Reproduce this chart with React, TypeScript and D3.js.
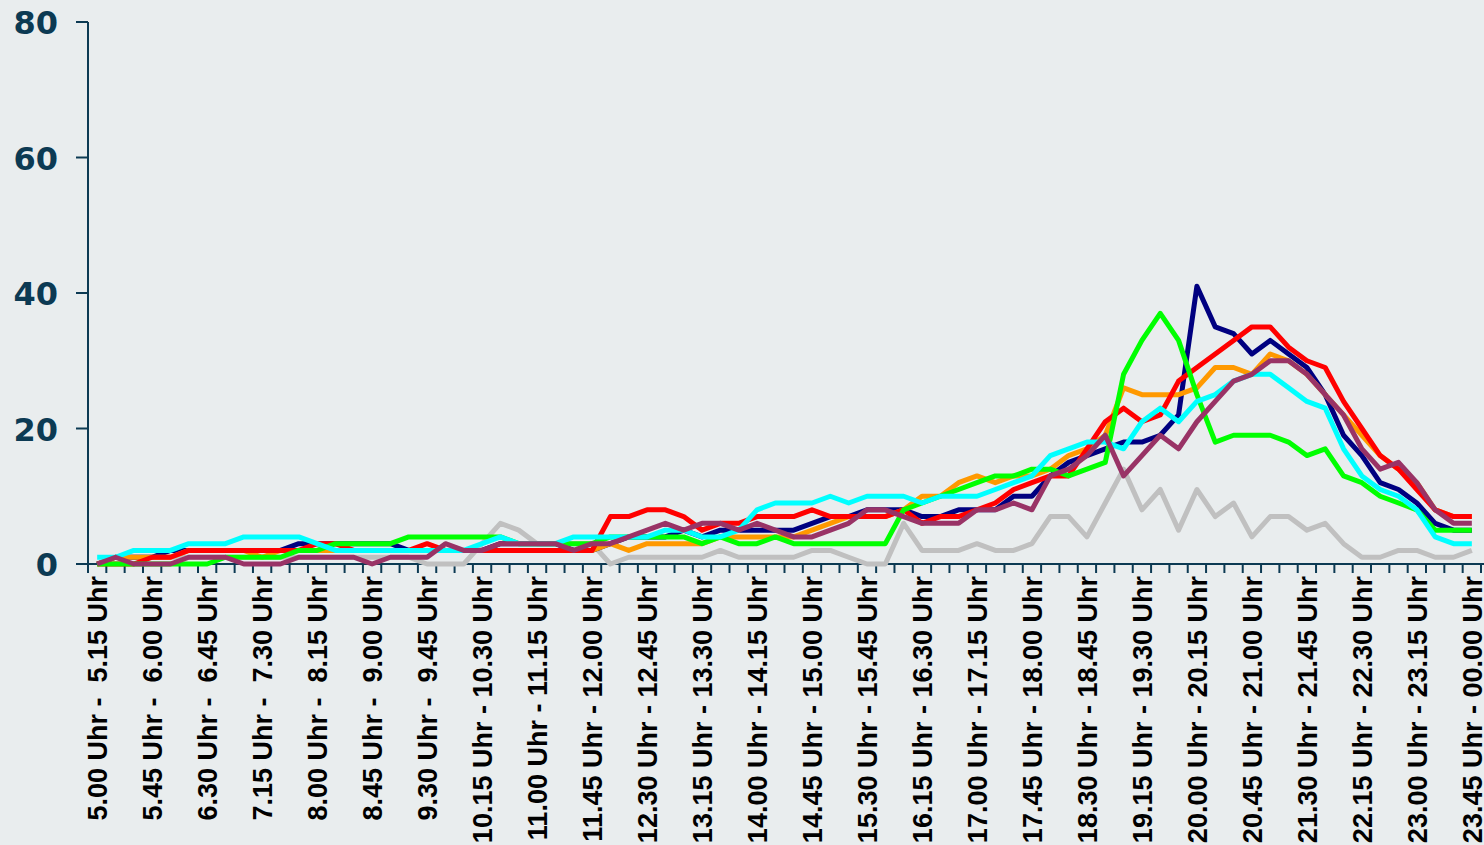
import * as d3 from "d3";

const width = 1484;
const height = 845;
const marginLeft = 88;
const plotRight = 1481;
const yTop = 22;
const yBottom = 564;

// 76 Viertelstunden von 5.00 bis 24.00 Uhr
const slotCount = 76;
const fmtTime = (mins: number, pad: boolean) => {
  const h = Math.floor(mins / 60) % 24;
  const m = mins % 60;
  const hs = h === 0 ? "00" : String(h);
  const s = `${hs}.${String(m).padStart(2, "0")}`;
  return pad && hs.length === 1 ? " " + s : s;
};
const categories = d3
  .range(slotCount)
  .map((i) => `${fmtTime(300 + i * 15, false)} Uhr - ${fmtTime(315 + i * 15, true)} Uhr`);

const yTicks = [0, 20, 40, 60, 80];

const navy = [
  0, 1, 1, 1, 2, 2, 2, 2, 2, 2, 2, 3, 3, 3, 3, 3, 3, 2, 2, 2, 2, 2, 3, 3, 3, 3,
  2, 2, 3, 4, 4, 4, 5, 4, 5, 5, 5, 5, 5, 6, 7, 7, 8, 8, 8, 7, 7, 8, 8, 8, 10,
  10, 13, 15, 16, 17, 18, 18, 19, 22, 41, 35, 34, 31, 33, 31, 29, 25, 19, 16,
  12, 11, 9, 6, 5, 5,
];
const orange = [
  0, 1, 1, 1, 1, 2, 2, 2, 2, 1, 2, 2, 2, 2, 2, 2, 2, 2, 2, 2, 2, 2, 2, 2, 2, 2,
  2, 2, 3, 2, 3, 3, 3, 3, 4, 4, 4, 4, 4, 5, 6, 7, 7, 7, 8, 10, 10, 12, 13, 12,
  13, 13, 14, 16, 17, 19, 26, 25, 25, 25, 26, 29, 29, 28, 31, 30, 28, 25, 22,
  19, 16, 14, 12, 8, 7, 7,
];
const red = [
  0, 0, 0, 1, 1, 2, 2, 2, 2, 2, 2, 2, 3, 3, 2, 2, 2, 2, 3, 2, 2, 2, 2, 2, 2, 2,
  2, 2, 7, 7, 8, 8, 7, 5, 6, 6, 7, 7, 7, 8, 7, 7, 7, 7, 8, 6, 7, 7, 8, 9, 11,
  12, 13, 13, 17, 21, 23, 21, 22, 27, 29, 31, 33, 35, 35, 32, 30, 29, 24, 20,
  16, 14, 11, 8, 7, 7,
];
const green = [
  0, 0, 0, 0, 0, 0, 0, 1, 1, 1, 1, 2, 2, 3, 3, 3, 3, 4, 4, 4, 4, 4, 4, 3, 3, 3,
  3, 3, 4, 4, 4, 4, 4, 3, 4, 3, 3, 4, 3, 3, 3, 3, 3, 3, 8, 9, 10, 11, 12, 13,
  13, 14, 14, 13, 14, 15, 28, 33, 37, 33, 25, 18, 19, 19, 19, 18, 16, 17, 13,
  12, 10, 9, 8, 5, 5, 5,
];
const cyan = [
  1, 1, 2, 2, 2, 3, 3, 3, 4, 4, 4, 4, 3, 2, 2, 2, 2, 2, 2, 2, 2, 3, 4, 3, 3, 3,
  4, 4, 4, 4, 4, 5, 5, 4, 4, 5, 8, 9, 9, 9, 10, 9, 10, 10, 10, 9, 10, 10, 10,
  11, 12, 13, 16, 17, 18, 18, 17, 21, 23, 21, 24, 25, 27, 28, 28, 26, 24, 23,
  17, 13, 11, 10, 8, 4, 3, 3,
];
const gray = [
  0, 1, 1, 1, 1, 1, 1, 1, 1, 1, 1, 1, 1, 1, 1, 1, 1, 1, 0, 0, 0, 3, 6, 5, 3, 3,
  3, 3, 0, 1, 1, 1, 1, 1, 2, 1, 1, 1, 1, 2, 2, 1, 0, 0, 6, 2, 2, 2, 3, 2, 2, 3,
  7, 7, 4, 9, 14, 8, 11, 5, 11, 7, 9, 4, 7, 7, 5, 6, 3, 1, 1, 2, 2, 1, 1, 2,
];
const purple = [
  0, 1, 0, 0, 0, 1, 1, 1, 0, 0, 0, 1, 1, 1, 1, 0, 1, 1, 1, 3, 2, 2, 3, 3, 3, 3,
  2, 3, 3, 4, 5, 6, 5, 6, 6, 5, 6, 5, 4, 4, 5, 6, 8, 8, 7, 6, 6, 6, 8, 8, 9, 8,
  13, 14, 16, 19, 13, 16, 19, 17, 21, 24, 27, 28, 30, 30, 28, 25, 22, 17, 14,
  15, 12, 8, 6, 6,
];

const series = [
  { name: "gray", color: "#c0c0c0", values: gray },
  { name: "navy", color: "#000080", values: navy },
  { name: "orange", color: "#ff9900", values: orange },
  { name: "red", color: "#ff0000", values: red },
  { name: "green", color: "#00ff00", values: green },
  { name: "cyan", color: "#00ffff", values: cyan },
  { name: "purple", color: "#993366", values: purple },
];

const axisColor = "#0c3a53";

export default function App() {
  const x = d3.scaleBand(categories, [marginLeft, plotRight]);
  const y = d3.scaleLinear([0, 80], [yBottom, yTop]);
  const cx = (i: number) => (x(categories[i]) as number) + x.bandwidth() / 2;
  const line = d3
    .line<number>()
    .x((d, i) => cx(i))
    .y((d) => y(d));

  const tickXs = categories.map((c) => x(c) as number).concat([plotRight]);

  return (
    <div style={{ position: "absolute", left: 0, top: 0 }}>
      <svg width={width} height={height} style={{ display: "block" }}>
        <rect width={width} height={height} fill="#e9edee" />

        {/* y axis */}
        <line x1={marginLeft} x2={marginLeft} y1={y(80)} y2={y(0)} stroke={axisColor} strokeWidth={2} />
        {yTicks.map((t) => (
          <g key={t}>
            <line x1={marginLeft - 12} x2={marginLeft} y1={y(t)} y2={y(t)} stroke={axisColor} strokeWidth={2} />
            <text
              x={58}
              y={y(t) + 12}
              textAnchor="end"
              fontFamily="DejaVu Sans, Verdana, sans-serif"
              fontWeight="bold"
              fontSize={32}
              fill={axisColor}
            >
              {t}
            </text>
          </g>
        ))}

        {/* x axis */}
        <line x1={marginLeft} x2={width} y1={y(0)} y2={y(0)} stroke={axisColor} strokeWidth={2} />
        {tickXs.map((tx, i) => (
          <line key={i} x1={tx} x2={tx} y1={y(0)} y2={y(0) + 9} stroke={axisColor} strokeWidth={2} />
        ))}
        {categories.map((c, i) =>
          i % 3 === 0 ? (
            <text
              key={c}
              transform={`translate(${cx(i)},${y(0) + 12}) rotate(-90)`}
              textAnchor="end"
              dy="0.36em"
              fontFamily="Liberation Sans, Arial, sans-serif"
              fontWeight="bold"
              fontSize={27}
              fill="#000"
              style={{ whiteSpace: "pre" }}
            >
              {c}
            </text>
          ) : null
        )}

        {/* lines */}
        {series.map((s) => (
          <path
            key={s.name}
            d={line(s.values) as string}
            fill="none"
            stroke={s.color}
            strokeWidth={5}
            strokeLinejoin="round"
          />
        ))}
      </svg>
    </div>
  );
}
